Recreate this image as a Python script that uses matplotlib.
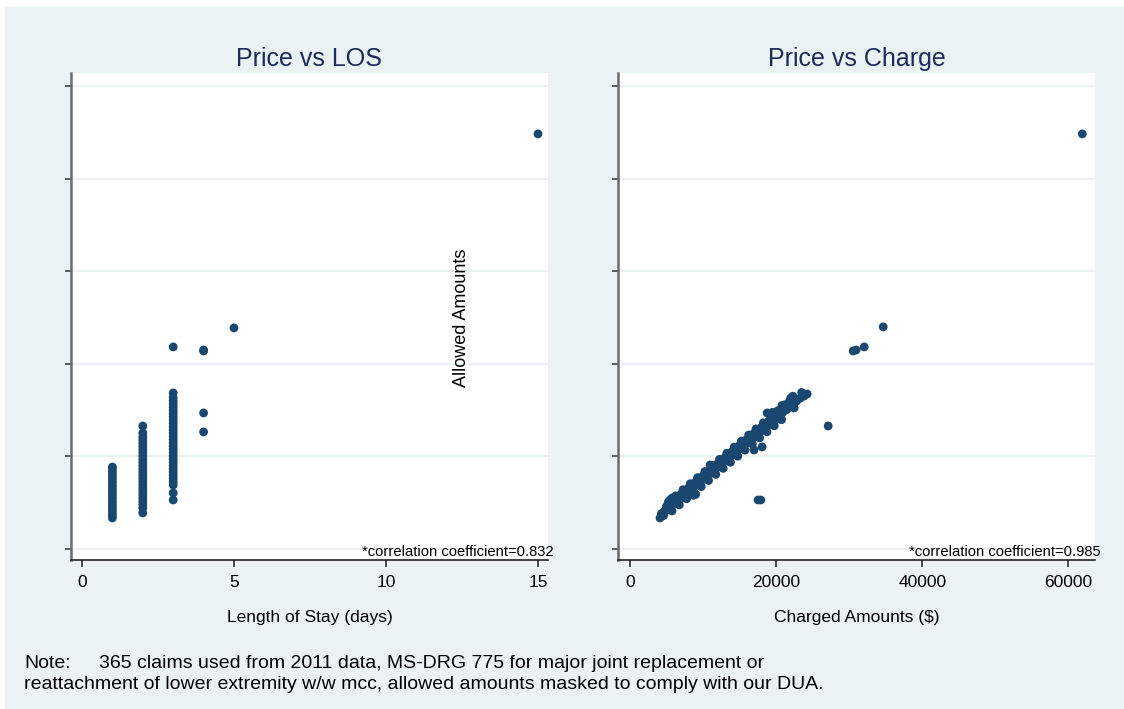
import numpy as np
import matplotlib as mpl
mpl.use("Agg")
import matplotlib.pyplot as plt
from matplotlib.patches import Rectangle

mpl.rcParams.update({
    "font.family": "Liberation Sans",
    "font.size": 12.5,
})

# allowed amounts ($) by length of stay (days)
los_allowed = {
    1: [3350, 3700, 4050, 4400, 4750, 5100, 5450, 5800, 6150, 6500, 6850,
        7200, 7550, 7900, 8250, 8600, 8850],
    2: [3890, 4430, 4780, 5130, 5480, 5830, 6180, 6530, 6880, 7230, 7580,
        7930, 8280, 8630, 8980, 9330, 9680, 10030, 10380, 10730, 11080,
        11430, 11780, 12130, 12530, 13280],
    3: [5290, 6050, 6910, 7260, 7610, 7960, 8310, 8660, 9010, 9360, 9710,
        10060, 10410, 10760, 11110, 11460, 11810, 12160, 12510, 12860, 13210,
        13560, 13910, 14260, 14610, 14960, 15310, 15660, 16010, 16360, 16850,
        21820],
    4: [21490, 21380, 14690, 12640],
    5: [23870],
    15: [44820],
}

# charged amounts vs allowed amounts ($)
charge_amt = [4110, 4300, 4600, 4800, 5300, 5800, 6300, 6800, 7300, 7800, 8300,
              8800, 9300, 9800, 10300, 10800, 11300, 11800, 12300, 12800,
              13300, 13800, 14300, 14800, 15300, 15800, 16300, 16800, 17300,
              17800, 18300, 18800, 19300, 19800, 20300, 20800, 21300, 21800,
              22300, 22800, 23300,
              5000, 6000, 7000, 8000, 9000, 10000, 11000, 12000, 13000, 14000,
              15000, 16000, 17000, 18000, 19000, 20000, 21000, 22000,
              5500, 6500, 7500, 8500, 9500, 10500, 11500, 12500, 13500, 14500,
              15500, 16500, 17500, 18500, 19500, 20500,
              5250, 6250, 7250, 8250, 9250, 10250, 11250, 12250, 13250, 14250,
              15250, 16250, 17250, 18250, 19250, 20250, 21250,
              5750, 6750, 7750, 8750, 9750, 10750, 11750, 12750, 13750, 14750,
              15750, 16750, 17750, 18750, 19750, 20750,
              4550, 5550, 6550, 7550, 8550, 9550, 10550, 11550, 12550, 13550,
              14550, 15550, 16550, 17550, 18550, 19550, 20550, 21550, 22550,
              5750, 5500, 6580, 10960, 9000, 8700,
              18770, 19500, 21235, 22880, 22470, 24250, 22300, 20800,
              21800, 22000, 23500, 23800, 20300, 19800,
              18080, 16990, 27130, 17540, 17900,
              30960, 30550, 32060, 34660, 61920]
charge_allowed = [3350, 3805, 3600, 4134, 4462, 4791, 5119, 5448, 5776, 6105,
                  6433, 6762, 7090, 7419, 7747, 8076, 8404, 8733, 9061, 9390,
                  9718, 10047, 10375, 10704, 11032, 11361, 11689, 12018, 12346,
                  12675, 13003, 13332, 13660, 13989, 14317, 14646, 14974,
                  15303, 15631, 15960, 16288,
                  4615, 5272, 5929, 6586, 7243, 7900, 8557, 9214, 9871, 10528,
                  11185, 11842, 12499, 13156, 13813, 14470, 15127, 15784,
                  4244, 4901, 5558, 6215, 6872, 7529, 8186, 8843, 9500, 10157,
                  10814, 11471, 12128, 12785, 13442, 14099,
                  5079, 5736, 6393, 7050, 7707, 8364, 9021, 9678, 10335, 10992,
                  11649, 12306, 12963, 13620, 14277, 14934, 15591,
                  4108, 4765, 5422, 6079, 6736, 7393, 8050, 8707, 9364, 10021,
                  10678, 11335, 11992, 12649, 13306, 13963,
                  3969, 4626, 5283, 5940, 6597, 7254, 7911, 8568, 9225, 9882,
                  10539, 11196, 11853, 12510, 13167, 13824, 14481, 15138, 15795,
                  5500, 5300, 5510, 9070, 5900, 5800,
                  14690, 14750, 15336, 16092, 15228, 16740, 16500, 15500,
                  15900, 16300, 16900, 16500, 14900, 14700,
                  11020, 10690, 13280, 5290, 5290,
                  21490, 21380, 21820, 23980, 44820]

los_x, los_y = [], []
for days, vals in los_allowed.items():
    los_x += [days] * len(vals)
    los_y += vals

bg = '#eaf2f3'
navy = '#1a476f'
title_col = '#1c2a5c'

W, H = 1124, 709
fig = plt.figure(figsize=(W / 100, H / 100), dpi=100)
fig.patch.set_facecolor('white')
fig.patches.append(Rectangle((5 / W, 0), 1, (H - 7) / H, transform=fig.transFigure,
                             facecolor=bg, edgecolor='none', zorder=-10))

ax1 = fig.add_axes([71 / W, 1 - 560 / H, 477 / W, 487 / H])
ax2 = fig.add_axes([618 / W, 1 - 560 / H, 477 / W, 487 / H])

ax1.scatter(los_x, los_y, s=40, color=navy, edgecolors='none', zorder=3)
ax2.scatter(charge_amt, charge_allowed, s=40, color=navy, edgecolors='none', zorder=3)

ax1.set_xlim(-0.362, 15.33)
ax1.set_xticks([0, 5, 10, 15])
ax2.set_xlim(-1643, 63656)
ax2.set_xticks([0, 20000, 40000, 60000])

for axis, title, xlab, corr in [(ax1, 'Price vs LOS', 'Length of Stay (days)', 0.832),
                                (ax2, 'Price vs Charge', 'Charged Amounts ($)', 0.985)]:
    axis.set_facecolor('white')
    axis.set_ylim(-1190, 51400)
    axis.set_yticks(np.arange(0, 50001, 10000))
    axis.set_yticklabels([])
    axis.grid(axis='y', color='#e4eeef', linewidth=1.1, zorder=0)
    axis.set_axisbelow(True)
    axis.spines['top'].set_visible(False)
    axis.spines['right'].set_visible(False)
    axis.spines['left'].set_color('#6b6b6b')
    axis.spines['left'].set_linewidth(1.8)
    axis.spines['bottom'].set_color('#222222')
    axis.spines['bottom'].set_linewidth(1.2)
    axis.tick_params('y', length=4.5, width=1.1, color='#333333')
    axis.tick_params('x', length=5, width=1.1, color='#222222', pad=6,
                     labelsize=12.5)
    axis.set_title(title, fontsize=18, color=title_col, pad=5)
    axis.set_xlabel(xlab, fontsize=12.5, labelpad=14)
    axis.text(1.0115 if axis is ax1 else 1.0126, 0.008,
              '*correlation coefficient=%.3f' % corr, transform=axis.transAxes,
              ha='right', va='baseline', fontsize=10.6)

fig.text(461 / W, 1 - 318 / H, 'Allowed Amounts', rotation=90, ha='center',
         va='center', fontsize=13)

fig.text(24 / W, 1 - 668 / H, 'Note:', fontsize=14.0, va='baseline')
fig.text(99 / W, 1 - 668 / H,
         '365 claims used from 2011 data, MS-DRG 775 for major joint replacement or',
         fontsize=14.0, va='baseline')
fig.text(24 / W, 1 - 689 / H,
         'reattachment of lower extremity w/w mcc, allowed amounts masked to comply with our DUA.',
         fontsize=14.0, va='baseline')

fig.savefig('out.png', dpi=100)
plt.close(fig)
